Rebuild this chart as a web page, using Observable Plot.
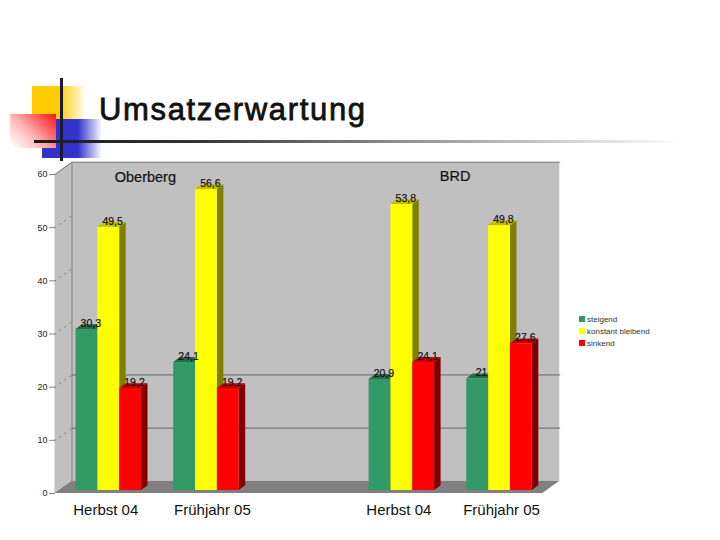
<!DOCTYPE html>
<html><head><meta charset="utf-8">
<script src="https://cdn.jsdelivr.net/npm/d3@7"></script>
<script src="https://cdn.jsdelivr.net/npm/@observablehq/plot@0.6"></script>
<style>
html,body{margin:0;padding:0;background:#fff;}
#page{position:relative;width:720px;height:540px;overflow:hidden;font-family:"Liberation Sans",Arial,sans-serif;}
#page>div{position:absolute;}
#plot{left:0;top:0;}
#plot svg{background:transparent;display:block;}
.leg{display:flex;align-items:center;font-size:8px;color:#333;height:12px;}
.leg i{display:inline-block;width:6px;height:6px;margin-right:2px;}
</style></head><body>
<div id="page">
  <div style="left:32px;top:86px;width:54px;height:54px;background:linear-gradient(90deg,#ffcc00 0%,#ffcc00 50%,#fff 100%)"></div>
  <div style="left:42px;top:119px;width:60px;height:39px;background:linear-gradient(90deg,#3333cc 0%,#3333cc 60%,#fff 100%)"></div>
  <div style="left:10px;top:114px;width:46px;height:34px;background:linear-gradient(45deg,#fff 5%,#ffb0b0 45%,#ff1010 100%)"></div>
  <div style="left:60px;top:78px;width:3px;height:83px;background:#1a1a33"></div>
  <div style="left:34px;top:140px;width:650px;height:3px;background:linear-gradient(90deg,#1a1a1a 0%,#333 25%,#999 60%,#fff 100%)"></div>
  <div style="left:99px;top:91px;font-size:31px;color:#111;-webkit-text-stroke:0.8px #111;letter-spacing:1.65px;line-height:38px;white-space:nowrap">Umsatzerwartung</div>
  <div id="plot"></div>
  <div id="legend" style="left:579px;top:313px"></div>
</div>
<script>
const categories = ["Herbst 04", "Frühjahr 05", "Herbst 04", "Frühjahr 05"];
const slots = [0, 1, 3, 4];
const regions = ["Oberberg", "BRD"];
const seriesNames = ["steigend", "konstant bleibend", "sinkend"];
const steigend = [30.3, 24.1, 20.9, 21];
const konstant = [49.5, 56.6, 53.8, 49.8];
const sinkend = [19.2, 19.2, 24.1, 27.6];
const yTicks = [0, 10, 20, 30, 40, 50, 60];
const front = ["#339966", "#ffff00", "#ff0000"];
const side = ["#174530", "#808000", "#800000"];
const topc = ["#2a6a4a", "#c0c000", "#c00000"];

const values = [steigend, konstant, sinkend];
const barW = 0.2235, barDx = 0.0665, barDy = 0.9, barBase = 0.56;
const wallDx = 0.174, wallDy = 2.3, wallLeft = -0.215, wallRight = 4.952;

const poly = (xs, y1s, y2s) => xs.map((x, i) => ({x, y1: y1s[i], y2: y2s[i]}));
const area = (pts, fill) => Plot.areaY(pts, {x: "x", y1: "y1", y2: "y2", fill, curve: "linear"});
const line = (pts, o) => Plot.line(pts, {x: "x", y: "y", curve: "linear", ...o});

const marks = [];
// walls and floor
marks.push(area(poly([wallLeft, wallLeft + wallDx, wallRight], [0, wallDy, wallDy], [60, 60 + wallDy, 60 + wallDy]), "#c0c0c0"));
marks.push(area(poly([wallLeft, wallLeft + wallDx, wallRight - wallDx, wallRight], [0, 0, 0, wallDy], [0, wallDy, wallDy, wallDy]), "#808080"));
marks.push(line([{x: wallLeft, y: 60}, {x: wallLeft + wallDx, y: 60 + wallDy}, {x: wallRight, y: 60 + wallDy}], {stroke: "#808080", strokeWidth: 1}));
marks.push(line([{x: wallLeft + wallDx, y: wallDy}, {x: wallLeft + wallDx, y: 60 + wallDy}], {stroke: "#808080", strokeWidth: 1}));
for (const v of [10, 20]) marks.push(line([{x: wallLeft + wallDx, y: v + wallDy}, {x: wallRight, y: v + wallDy}], {stroke: "#666", strokeWidth: 1}));
for (const v of yTicks.slice(1, 6)) marks.push(line([{x: wallLeft, y: v}, {x: wallLeft + wallDx, y: v + wallDy}], {stroke: "#777", strokeWidth: 1, strokeDasharray: "1,5"}));

// bars
slots.forEach((g, gi) => values.forEach((vals, s) => {
  const v = vals[gi] + barBase, b = barBase;
  const x1 = g + s * barW, x2 = x1 + barW, d = barDx;
  marks.push(area(poly([x1, x1 + d, x2, x2 + d], [v, v, v, v + barDy], [v, v + barDy, v + barDy, v + barDy]), topc[s]));
  marks.push(area(poly([x2, x2 + d], [b, b + barDy], [v, v + barDy]), side[s]));
  marks.push(Plot.rectY([{x1, x2, y1: b, y2: v}], {x1: "x1", x2: "x2", y1: "y1", y2: "y2", fill: front[s], inset: 0}));
}));

// value labels
const labelRows = slots.flatMap((g, gi) => values.map((vals, s) => ({
  x: g + (s + 0.5) * barW + 0.04, y: vals[gi] + barBase + barDy, t: String(vals[gi]).replace(".", ",")
})));
marks.push(Plot.text(labelRows, {x: "x", y: "y", text: "t", dy: -1, fontSize: 10.5, fill: "#111", fontFamily: "Liberation Sans", stroke: "#111", strokeWidth: 0.2}));

// axis
marks.push(Plot.axisY({ticks: yTicks, anchor: "left", label: null, tickSize: 6, tickPadding: 2, fontSize: 9, stroke: "#888", fill: "#222", fontFamily: "Liberation Sans"}));

// category labels
const catRows = slots.map((g, i) => ({x: g + 1.5 * barW, y: -3.2, t: categories[i]}));
const labelStyle = {x: "x", y: "y", text: "t", fontSize: 15, fill: "#111", fontFamily: "Liberation Sans"};
[-3, 6, -3, 2].forEach((dx, i) => marks.push(Plot.text([catRows[i]], {...labelStyle, dx})));
// region labels
marks.push(Plot.text([{x: 0.71, y: 59.4, t: regions[0]}, {x: 3.88, y: 59.6, t: regions[1]}], {...labelStyle, fontSize: 14.5, stroke: "#111", strokeWidth: 0.2}));

const chart = Plot.plot({
  width: 720, height: 540, marginLeft: 55, marginRight: 0, marginTop: 0, marginBottom: 0,
  style: {background: "transparent", overflow: "visible"},
  x: {domain: [0, 4], range: [75.5, 466.3], axis: null},
  y: {domain: [0, 60], range: [493, 174], axis: null},
  marks
});
document.getElementById("plot").append(chart);

const legend = document.getElementById("legend");
seriesNames.forEach((n, i) => {
  const row = document.createElement("div");
  row.className = "leg";
  const sw = document.createElement("i");
  sw.style.background = front[i];
  row.append(sw, n);
  legend.append(row);
});
</script>
</body></html>
